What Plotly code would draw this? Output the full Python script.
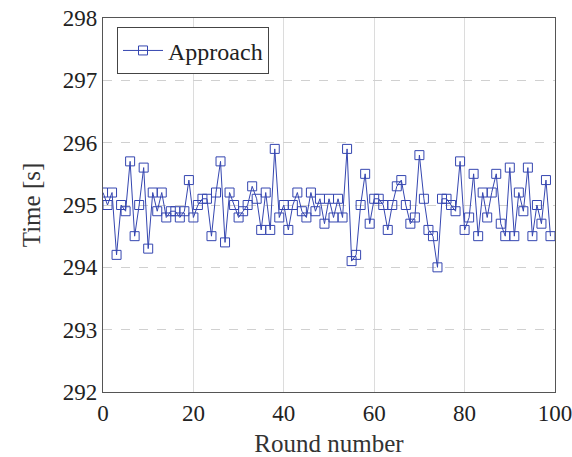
import plotly.graph_objects as go

rounds = list(range(100))
times = [
    295.2, 295.0, 295.2, 294.2, 295.0, 294.9, 295.7, 294.5, 295.0, 295.6,
    294.3, 295.2, 294.9, 295.2, 294.8, 294.9, 294.9, 294.8, 294.9, 295.4,
    294.8, 295.0, 295.1, 295.1, 294.5, 295.2, 295.7, 294.4, 295.2, 295.0,
    294.8, 294.9, 295.0, 295.3, 295.1, 294.6, 295.2, 294.6, 295.9, 294.8,
    295.0, 294.6, 295.0, 295.2, 294.9, 294.8, 295.2, 294.9, 295.1, 294.7,
    295.1, 294.8, 295.1, 294.8, 295.9, 294.1, 294.2, 295.0, 295.5, 294.7,
    295.1, 295.1, 295.0, 294.6, 295.0, 295.3, 295.4, 295.0, 294.7, 294.8,
    295.8, 295.1, 294.6, 294.5, 294.0, 295.1, 295.1, 295.0, 294.9, 295.7,
    294.6, 294.8, 295.5, 294.5, 295.2, 294.8, 295.2, 295.5, 294.7, 294.5,
    295.6, 294.5, 295.2, 294.9, 295.6, 294.5, 295.0, 294.7, 295.4, 294.5,
]
series_name = "Approach"
x_ticks = [0, 20, 40, 60, 80, 100]
y_ticks = [292, 293, 294, 295, 296, 297, 298]

font_family = "Liberation Serif"
blue = "#3546b0"

fig = go.Figure()
fig.add_trace(go.Scatter(
    x=rounds, y=times, mode="lines+markers", name=series_name,
    line=dict(color=blue, width=1),
    marker=dict(symbol="square-open", size=9, color=blue, line=dict(width=1, color=blue)),
))

fig.update_layout(
    width=572, height=457,
    margin=dict(l=103, r=17, t=18, b=65, autoexpand=False),
    paper_bgcolor="white", plot_bgcolor="white",
    font=dict(family=font_family, size=23, color="#222"),
    showlegend=True,
    legend=dict(
        x=0.031, y=0.975, xanchor="left", yanchor="top",
        bordercolor="#444", borderwidth=1, bgcolor="white",
        font=dict(family=font_family, size=24, color="#222"),
        itemwidth=40, tracegroupgap=0,
    ),
    xaxis=dict(
        range=[0, 100], tickvals=x_ticks, ticks="", showline=True, mirror=True,
        linecolor="#555", linewidth=1.2, showgrid=True, gridcolor="#dcdcdc", gridwidth=1,
        zeroline=False, automargin=False, ticklabeloverflow="allow",
        title=dict(text="Round number", font=dict(family=font_family, size=25, color="#333")),
        tickfont=dict(family=font_family, size=23, color="#222"),
    ),
    yaxis=dict(
        range=[292, 298], tickvals=y_ticks, ticks="", showline=True, mirror=True,
        linecolor="#555", linewidth=1.2, showgrid=True, gridcolor="#d0d0d0", gridwidth=1,
        griddash="dash", zeroline=False, automargin=False, ticklabeloverflow="allow",
        title=dict(text="Time [s]", font=dict(family=font_family, size=25, color="#333")),
        tickfont=dict(family=font_family, size=23, color="#222"),
    ),
)

fig.write_html("out.html")
